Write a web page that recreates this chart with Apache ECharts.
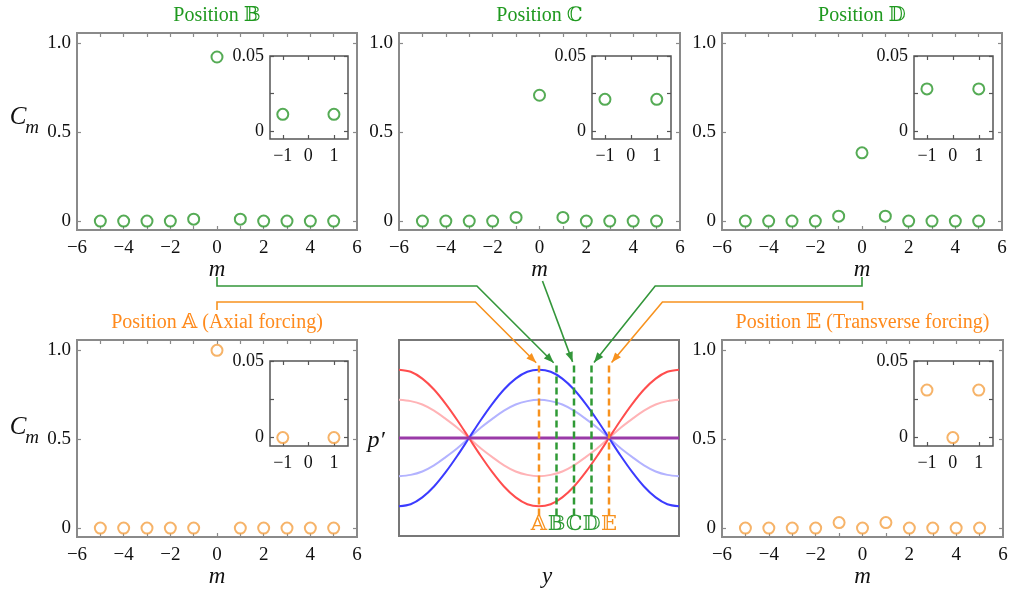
<!DOCTYPE html>
<html>
<head>
<meta charset="utf-8">
<script src="https://cdn.jsdelivr.net/npm/echarts@6/dist/echarts.min.js"></script>
<style>
html, body { margin: 0; padding: 0; background: #fff; }
#main { width: 1011px; height: 593px; }
</style>
</head>
<body>
<div id="main"></div>
<script>
// mode number m and the coefficient C_m
var mVals = [-5, -4, -3, -2, -1, 0, 1, 2, 3, 4, 5];
var cmA = [0, 0, 0, 0, 0, 1.0, 0, 0, 0, 0, 0];
var cmB = [0, 0, 0, 0, 0.011, 0.923, 0.011, 0, 0, 0, 0];
var cmC = [0, 0, 0, 0, 0.021, 0.708, 0.021, 0, 0, 0, 0];
var cmD = [0, 0, 0, 0, 0.028, 0.384, 0.028, 0, 0, 0, 0];
var cmE = [0, 0, 0, 0, 0.031, 0, 0.031, 0, 0, 0, 0];

// pressure mode shapes p' across y (middle panel)
var yPos = [0, 0.0417, 0.0833, 0.125, 0.1667, 0.2083, 0.25, 0.2917, 0.3333, 0.375, 0.4167, 0.4583, 0.5,
            0.5417, 0.5833, 0.625, 0.6667, 0.7083, 0.75, 0.7917, 0.8333, 0.875, 0.9167, 0.9583, 1];
var pRed = [1, 0.97, 0.87, 0.71, 0.5, 0.26, 0, -0.26, -0.5, -0.71, -0.87, -0.97, -1,
            -0.97, -0.87, -0.71, -0.5, -0.26, 0, 0.26, 0.5, 0.71, 0.87, 0.97, 1];
var pBlue = [-1, -0.97, -0.87, -0.71, -0.5, -0.26, 0, 0.26, 0.5, 0.71, 0.87, 0.97, 1,
             0.97, 0.87, 0.71, 0.5, 0.26, 0, -0.26, -0.5, -0.71, -0.87, -0.97, -1];
var pRedPale = [0.56, 0.54, 0.49, 0.40, 0.28, 0.15, 0, -0.15, -0.28, -0.40, -0.49, -0.54, -0.56,
                -0.54, -0.49, -0.40, -0.28, -0.15, 0, 0.15, 0.28, 0.40, 0.49, 0.54, 0.56];
var pBluePale = [-0.56, -0.54, -0.49, -0.40, -0.28, -0.15, 0, 0.15, 0.28, 0.40, 0.49, 0.54, 0.56,
                 0.54, 0.49, 0.40, 0.28, 0.15, 0, -0.15, -0.28, -0.40, -0.49, -0.54, -0.56];
var pPurple = [0, 0, 0, 0, 0, 0, 0, 0, 0, 0, 0, 0, 0, 0, 0, 0, 0, 0, 0, 0, 0, 0, 0, 0, 0];

// forcing positions A..E
var posY = [0.5, 0.5625, 0.625, 0.6875, 0.75];
var posNames = ['𝔸', '𝔹', 'ℂ', '𝔻', '𝔼'];
var dashTop = 1.06, dashBottom = -1.14;

// tick labels
var mainXTicks = [-5, -4, -3, -2, -1, 0, 1, 2, 3, 4, 5];
var mainXLabels = [-6, -4, -2, 0, 2, 4, 6];
var mainYLabels = [0, 0.5, 1.0];
var insetXLabels = [-1, 0, 1];
var insetYTicks = [0, 0.025, 0.05];
var insetYLabels = [0, 0.05];

var green = '#2b962b', orange = '#f4a043';
var greenText = '#1f991f', orangeText = '#ff8a1c';
var greenLine = '#33963a', orangeLine = '#f7921f', greenDash = '#2f9a35';
var serif = '"Liberation Serif", "DejaVu Serif", serif';

var grids = [], xAxes = [], yAxes = [], series = [];

function num(v) {
    if (v < 0) return '\u2212' + (-v);
    return String(v);
}

function box(r, o) {
    var gi = grids.length;
    grids.push({
        left: r[0], top: r[1], width: r[2], height: r[3],
        show: true, borderColor: o.frame, borderWidth: o.frameW,
        backgroundColor: 'transparent'
    });
    var tick = { show: true, inside: true, length: 4, lineStyle: { color: o.frame, width: 1.2 } };
    var noLine = { show: false, onZero: false };
    var xi = xAxes.length;
    xAxes.push({
        gridIndex: gi, type: 'value', min: o.x[0], max: o.x[1],
        axisLine: noLine, splitLine: { show: false },
        axisTick: Object.assign({ customValues: o.xTicks }, tick),
        axisLabel: { customValues: o.xLabels, formatter: num, color: '#111', fontFamily: serif, fontSize: o.fs, margin: o.xMargin },
        name: o.xName || '', nameLocation: 'middle', nameGap: 28,
        nameTextStyle: { fontFamily: serif, fontStyle: 'italic', fontSize: 23, color: '#111' }
    });
    xAxes.push({
        gridIndex: gi, type: 'value', position: 'top', min: o.x[0], max: o.x[1],
        axisLine: noLine, splitLine: { show: false },
        axisTick: Object.assign({ customValues: o.xTicks }, tick),
        axisLabel: { show: false }
    });
    var yi = yAxes.length;
    yAxes.push({
        gridIndex: gi, type: 'value', position: 'left', min: o.y[0], max: o.y[1],
        axisLine: noLine, splitLine: { show: false },
        axisTick: Object.assign({ customValues: o.yTicks }, tick),
        axisLabel: { customValues: o.yLabels, formatter: o.yFmt, color: '#111', fontFamily: serif, fontSize: o.fs, margin: o.yMargin }
    });
    yAxes.push({
        gridIndex: gi, type: 'value', position: 'right', min: o.y[0], max: o.y[1],
        axisLine: noLine, splitLine: { show: false },
        axisTick: Object.assign({ customValues: o.yTicks }, tick),
        axisLabel: { show: false }
    });
    return { g: gi, x: xi, y: yi };
}

function mainFmt(v) { return v === 1 ? '1.0' : String(v); }
function insetFmt(v) { return String(v); }

function mainBox(r) {
    return box(r, {
        frame: '#8a8a8a', frameW: 2, x: [-6, 6], y: [-0.05, 1.058],
        xTicks: mainXTicks, xLabels: mainXLabels, yTicks: mainYLabels, yLabels: mainYLabels,
        yFmt: mainFmt, fs: 19, xMargin: 9, yMargin: 6, xName: 'm'
    });
}
function insetBox(r) {
    return box(r, {
        frame: '#555', frameW: 1.5, x: [-1.5, 1.55], y: [-0.0055, 0.05],
        xTicks: insetXLabels, xLabels: insetXLabels, yTicks: insetYTicks, yLabels: insetYLabels,
        yFmt: insetFmt, fs: 18, xMargin: 8, yMargin: 6
    });
}

function circles(ax, vals, color) {
    series.push({
        type: 'scatter', xAxisIndex: ax.x, yAxisIndex: ax.y, clip: true,
        symbol: 'circle', symbolSize: 11,
        itemStyle: { color: '#fff', borderColor: color, borderWidth: 2 },
        data: mVals.map(function (m, i) { return [m, vals[i]]; }),
        z: 5
    });
}

var top1 = 33, top2 = 340, h = 197;
var pB = mainBox([77, top1, 280, h]);
var pC = mainBox([399, top1, 281, h]);
var pD = mainBox([722, top1, 280, h]);
var pA = mainBox([77, top2, 280, h]);
var pE = mainBox([722, top2, 281, h]);

var mid = box([399, top2, 280, 196], {
    frame: '#777', frameW: 2, x: [0, 1], y: [-1.435, 1.435],
    xTicks: [], xLabels: [], yTicks: [], yLabels: [], yFmt: insetFmt, fs: 18, xMargin: 8, yMargin: 6
});

var iB = insetBox([270, 56, 78, 83]);
var iC = insetBox([592, 56, 79, 83]);
var iD = insetBox([914, 56, 79, 83]);
var iA = insetBox([270, 361, 78, 85]);
var iE = insetBox([914, 361, 79, 85]);

circles(pB, cmB, green); circles(iB, cmB, green);
circles(pC, cmC, green); circles(iC, cmC, green);
circles(pD, cmD, green); circles(iD, cmD, green);
circles(pA, cmA, orange); circles(iA, cmA, orange);
circles(pE, cmE, orange); circles(iE, cmE, orange);

function curve(vals, color, w) {
    series.push({
        type: 'line', xAxisIndex: mid.x, yAxisIndex: mid.y, smooth: 0.3,
        showSymbol: false, symbol: 'none',
        lineStyle: { color: color, width: w },
        data: yPos.map(function (y, i) { return [y, vals[i]]; })
    });
}
curve(pRedPale, '#ffb3b6', 2);
curve(pBluePale, '#b3b3ff', 2);
curve(pRed, '#ff4d4d', 2);
curve(pBlue, '#3b3bff', 2);
curve(pPurple, '#9a3aa8', 3);

function posColor(k) { return (k === 0 || k === 4) ? orangeLine : greenDash; }
posY.forEach(function (p, k) {
    series.push({
        type: 'line', xAxisIndex: mid.x, yAxisIndex: mid.y,
        symbol: 'none', z: 6,
        lineStyle: { color: posColor(k), width: 2.5, type: [7, 4] },
        data: [[p, dashTop], [p, dashBottom]]
    });
});

var chart = echarts.init(document.getElementById('main'));
chart.setOption({
    animation: false,
    grid: grids, xAxis: xAxes, yAxis: yAxes, series: series
});

function px(ax, pt) {
    return chart.convertToPixel({ xAxisIndex: ax.x, yAxisIndex: ax.y }, pt);
}

var g = [];
function txt(x, y, s, o) {
    g.push({
        type: 'text', x: x, y: y, z: 10,
        style: Object.assign({
            text: s, fill: '#111', font: '19px ' + serif,
            textAlign: 'center', textVerticalAlign: 'middle'
        }, o || {})
    });
}

// panel titles
function titleOf(ax, s, color, y) {
    var l = px(ax, [-6, 0]), r = px(ax, [6, 0]);
    txt((l[0] + r[0]) / 2, y, s, { fill: color, font: '20px ' + serif });
}
titleOf(pB, 'Position 𝔹', greenText, 16);
titleOf(pC, 'Position ℂ', greenText, 16);
titleOf(pD, 'Position 𝔻', greenText, 16);
titleOf(pA, 'Position 𝔸 (Axial forcing)', orangeText, 323);
titleOf(pE, 'Position 𝔼 (Transverse forcing)', orangeText, 323);

// letters under the dashed lines
posY.forEach(function (p, k) {
    var b = px(mid, [p, dashBottom]);
    txt(b[0], b[1] + 9, posNames[k], { fill: posColor(k), font: '21px ' + serif });
});

// C_m and p' labels
[[117, 128], [427, 438]].forEach(function (yy) {
    txt(18, yy[0], 'C', { font: 'italic 25px ' + serif });
    txt(32, yy[1], 'm', { font: 'italic 19px ' + serif });
});
txt(376, 441, 'p\u2032', { font: 'italic 24px ' + serif });
var yl = px(mid, [0.5, -1.435]);
txt(yl[0] + 8, 577, 'y', { font: 'italic 23px ' + serif });

// arrows from panels to the dashed lines
function arrow(pts, color) {
    g.push({
        type: 'polyline', z: 9,
        shape: { points: pts },
        style: { stroke: color, lineWidth: 1.6, fill: null }
    });
    var a = pts[pts.length - 2], b = pts[pts.length - 1];
    var dx = b[0] - a[0], dy = b[1] - a[1], L = Math.sqrt(dx * dx + dy * dy);
    var ux = dx / L, uy = dy / L, len = 10, hw = 3.8;
    var bx = b[0] - ux * len, by = b[1] - uy * len;
    g.push({
        type: 'polygon', z: 9,
        shape: { points: [[b[0], b[1]], [bx - uy * hw, by + ux * hw], [bx + uy * hw, by - ux * hw]] },
        style: { fill: color }
    });
}
function tipAt(k, from) {
    var t = px(mid, [posY[k], dashTop]);
    var dx = from[0] - t[0], dy = from[1] - t[1], L = Math.sqrt(dx * dx + dy * dy);
    return [t[0] + dx / L * 4, t[1] + dy / L * 4];
}
function bend(ax, k, color, y0, y1, slope) {
    var s = px(ax, [0, 0]);
    var t = px(mid, [posY[k], dashTop]);
    var corner = [t[0] - (t[1] - y1) * slope, y1];
    arrow([[s[0], y0], [s[0], y1], corner, tipAt(k, corner)], color);
}
bend(pB, 1, greenLine, 277, 286, 1.0);
bend(pA, 0, orangeLine, 310, 302, 1.0);
bend(pD, 3, greenLine, 277, 286, -0.8);
bend(pE, 4, orangeLine, 310, 302, -0.84);
var sC = px(pC, [0, 0]);
var fromC = [sC[0] + 3, 281];
arrow([fromC, tipAt(2, fromC)], greenLine);

chart.setOption({ graphic: g });
</script>
</body>
</html>
